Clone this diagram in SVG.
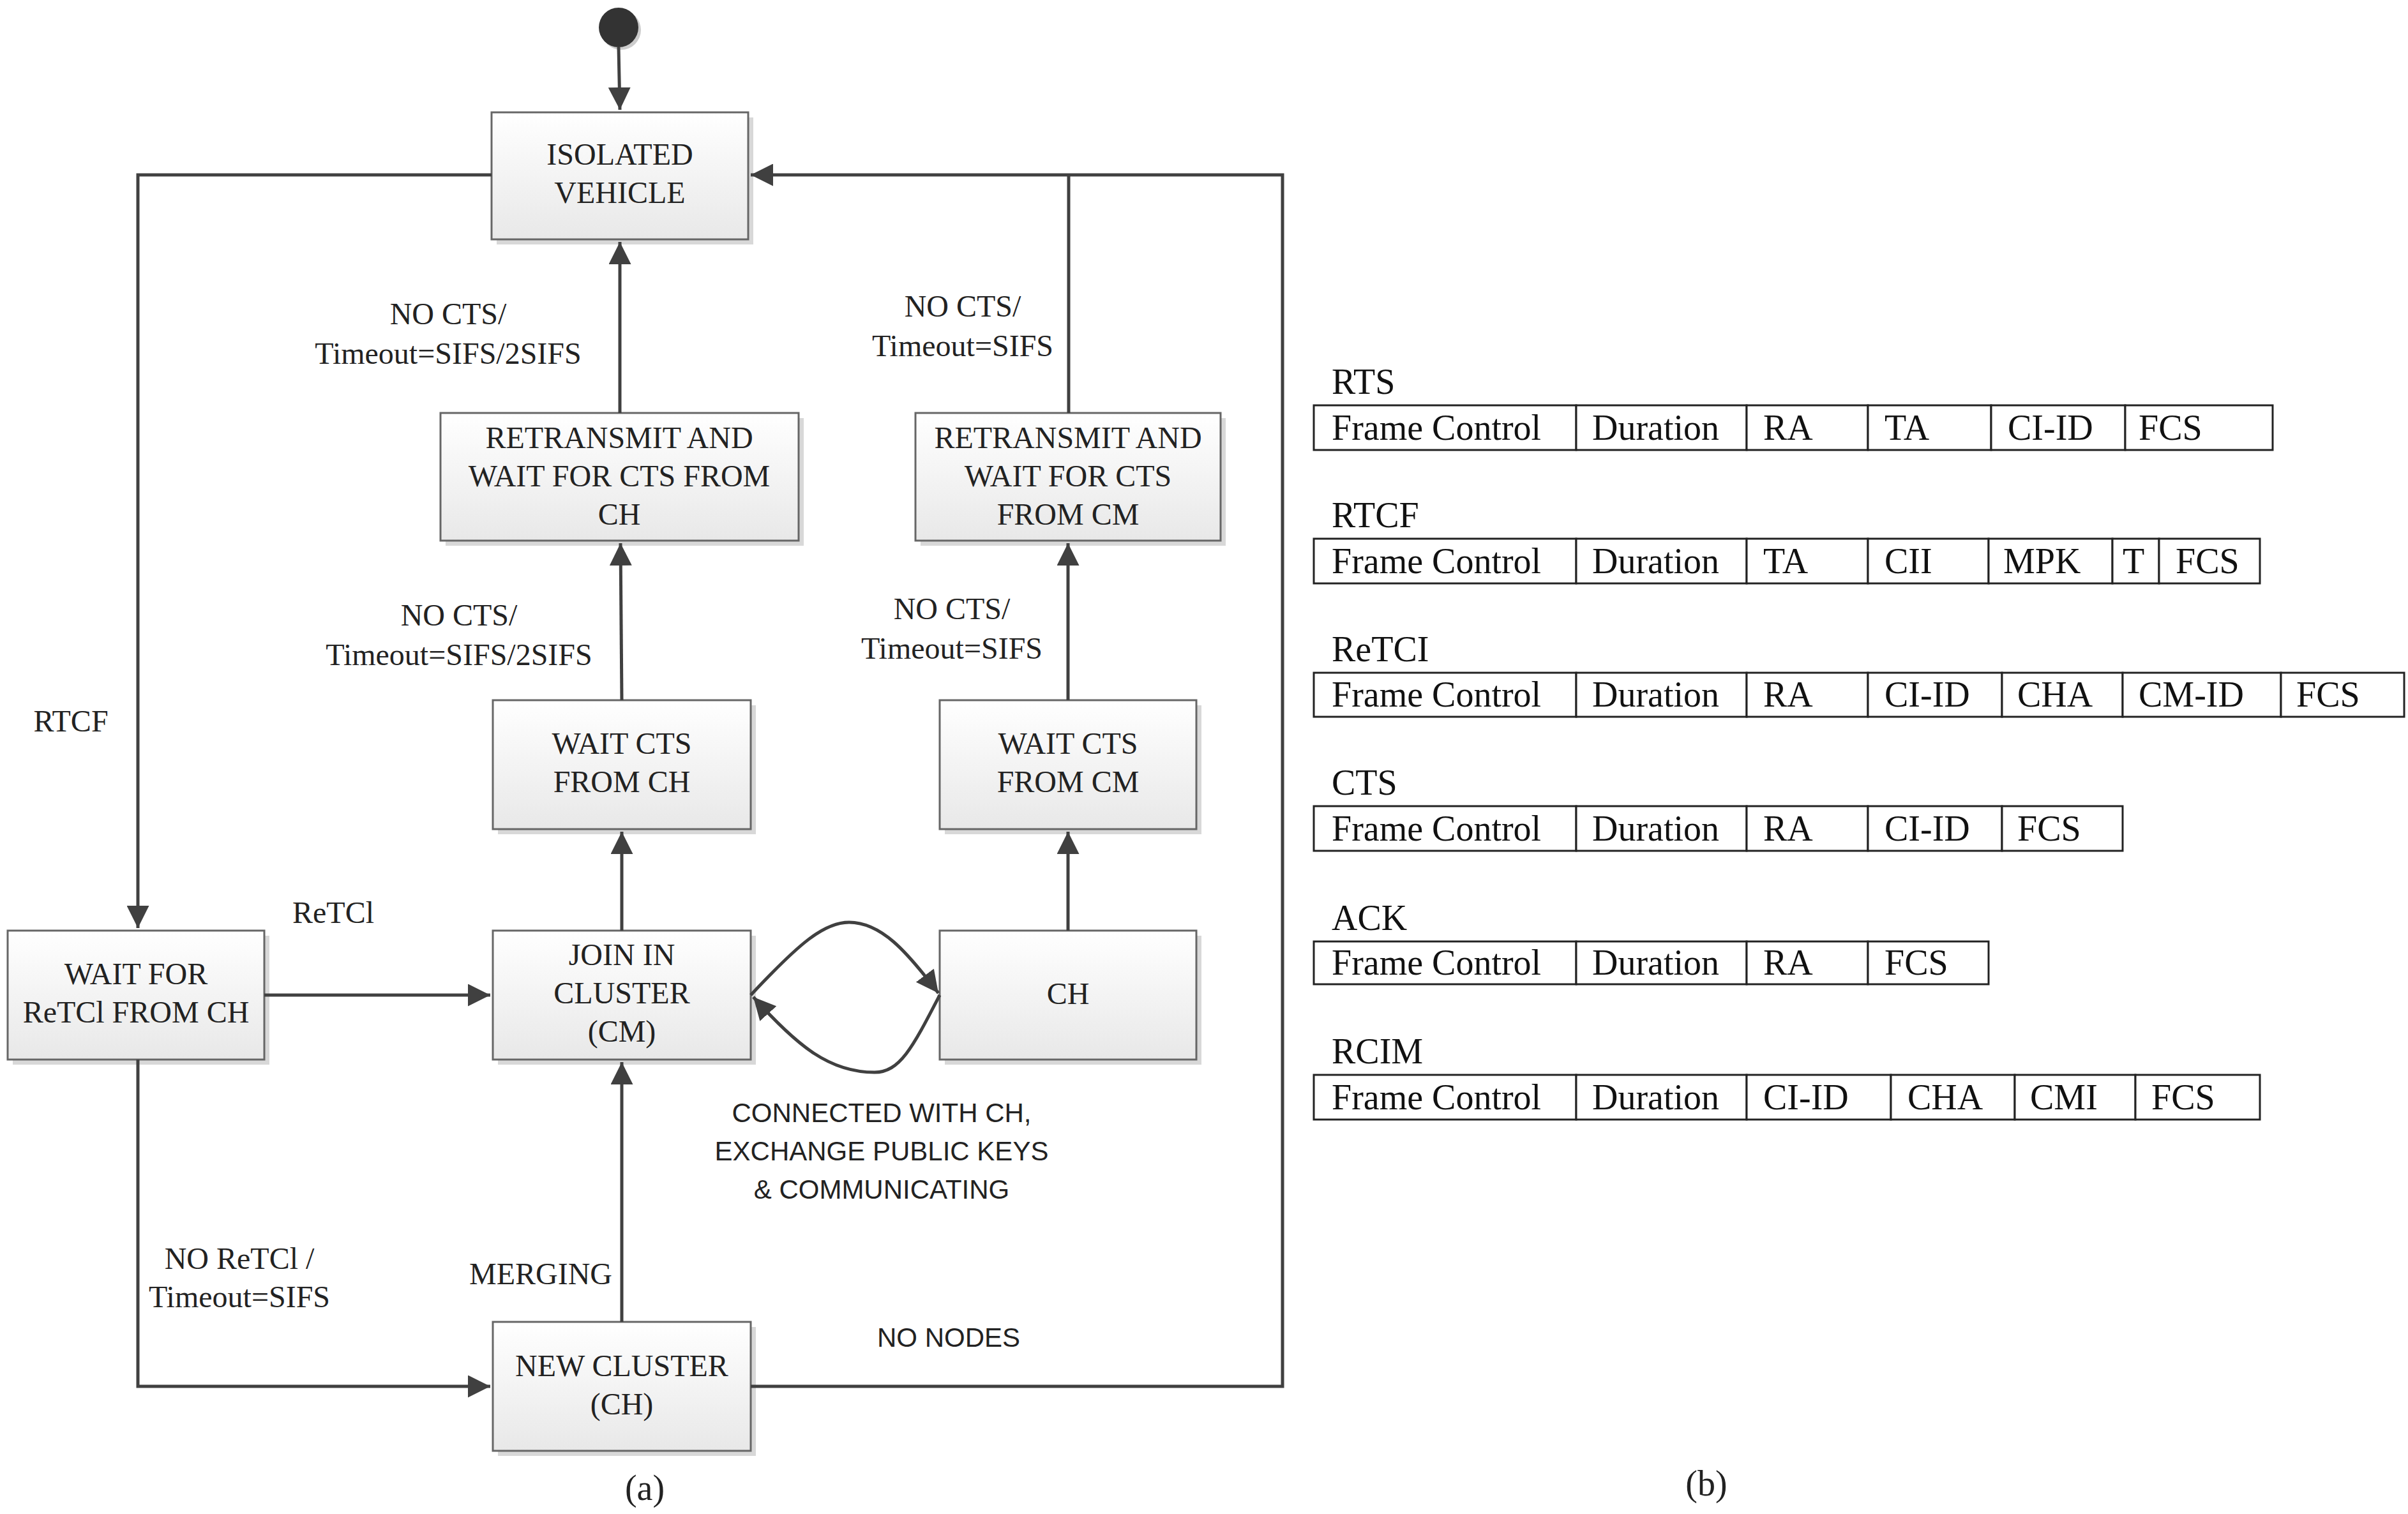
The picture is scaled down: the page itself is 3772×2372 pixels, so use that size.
<svg xmlns="http://www.w3.org/2000/svg" width="3772" height="2372" viewBox="0 0 3772 2372">
<defs>
<linearGradient id="g" x1="0" y1="0" x2="0" y2="1"><stop offset="0" stop-color="#ffffff"/><stop offset="1" stop-color="#e8e8e8"/></linearGradient>
<marker id="ah" viewBox="0 0 10 10" refX="10" refY="5" markerWidth="7" markerHeight="7" markerUnits="strokeWidth" orient="auto"><path d="M0,0 L10,5 L0,10 z" fill="#404040"/></marker>
<style>
.nd{fill:url(#g);stroke:#666;stroke-width:3}
.sh{fill:#d8d8d8}
.t{font-family:"Liberation Serif","Times New Roman","DejaVu Serif",serif;font-size:48px;fill:#222;text-anchor:middle}
.s{font-family:"Liberation Sans",Arial,sans-serif;font-size:42px;fill:#222;text-anchor:middle}
.c{fill:none;stroke:#404040;stroke-width:5}
.a{marker-end:url(#ah)}
.f{fill:#fff;stroke:#222;stroke-width:3}
.fl{font-family:"Liberation Serif","Times New Roman","DejaVu Serif",serif;font-size:56px;fill:#111}
</style>
</defs>
<rect width="3772" height="2372" fill="#fff"/>
<g id="start"><circle cx="973" cy="47" r="31" fill="#ccc"/><circle cx="969" cy="43" r="31" fill="#333"/></g>
<g id="isolated"><rect class="sh" x="778" y="184" width="402" height="199"/><rect class="nd" x="770" y="176" width="402" height="199"/><text class="t" x="971" y="258">ISOLATED</text><text class="t" x="971" y="318">VEHICLE</text></g>
<g id="retx-ch"><rect class="sh" x="698" y="655" width="561" height="200"/><rect class="nd" x="690" y="647" width="561" height="200"/><text class="t" x="970" y="702">RETRANSMIT AND</text><text class="t" x="970" y="762">WAIT FOR CTS FROM</text><text class="t" x="970" y="822">CH</text></g>
<g id="retx-cm"><rect class="sh" x="1442" y="655" width="478" height="200"/><rect class="nd" x="1434" y="647" width="478" height="200"/><text class="t" x="1673" y="702">RETRANSMIT AND</text><text class="t" x="1673" y="762">WAIT FOR CTS</text><text class="t" x="1673" y="822">FROM CM</text></g>
<g id="wait-ch"><rect class="sh" x="780" y="1105" width="404" height="202"/><rect class="nd" x="772" y="1097" width="404" height="202"/><text class="t" x="974" y="1181">WAIT CTS</text><text class="t" x="974" y="1241">FROM CH</text></g>
<g id="wait-cm"><rect class="sh" x="1480" y="1105" width="402" height="202"/><rect class="nd" x="1472" y="1097" width="402" height="202"/><text class="t" x="1673" y="1181">WAIT CTS</text><text class="t" x="1673" y="1241">FROM CM</text></g>
<g id="wait-retcl"><rect class="sh" x="20" y="1466" width="402" height="202"/><rect class="nd" x="12" y="1458" width="402" height="202"/><text class="t" x="213" y="1542">WAIT FOR</text><text class="t" x="213" y="1602">ReTCl FROM CH</text></g>
<g id="join"><rect class="sh" x="780" y="1466" width="404" height="202"/><rect class="nd" x="772" y="1458" width="404" height="202"/><text class="t" x="974" y="1512">JOIN IN</text><text class="t" x="974" y="1572">CLUSTER</text><text class="t" x="974" y="1632">(CM)</text></g>
<g id="ch"><rect class="sh" x="1480" y="1466" width="402" height="202"/><rect class="nd" x="1472" y="1458" width="402" height="202"/><text class="t" x="1673" y="1573">CH</text></g>
<g id="new-cluster"><rect class="sh" x="780" y="2079" width="404" height="202"/><rect class="nd" x="772" y="2071" width="404" height="202"/><text class="t" x="974" y="2156">NEW CLUSTER</text><text class="t" x="974" y="2216">(CH)</text></g>
<g id="connectors">
<path class="c a" d="M969,74 L971,172"/>
<path class="c a" d="M971,647 L971,379"/>
<path class="c a" d="M974,1097 L972,851"/>
<path class="c a" d="M1673,1097 L1673,851"/>
<path class="c a" d="M974,1458 L974,1303"/>
<path class="c a" d="M1673,1458 L1673,1303"/>
<path class="c a" d="M974,2071 L974,1664"/>
<path class="c" d="M1674,647 L1674,274"/>
<path class="c a" d="M1176,2172 L2009,2172 L2009,274 L1176,274"/>
<path class="c a" d="M770,274 L216,274 L216,1454"/>
<path class="c a" d="M414,1559 L768,1559"/>
<path class="c a" d="M216,1660 L216,2172 L768,2172"/>
<path class="c a" d="M1176,1559 C1250,1480 1290,1445 1330,1445 C1380,1445 1420,1490 1470,1556"/>
<path class="c a" d="M1472,1559 C1430,1640 1410,1680 1370,1680 C1300,1680 1250,1640 1180,1562"/>
</g>
<g id="labels">
<text class="t" x="702" y="508">NO CTS/</text><text class="t" x="702" y="570">Timeout=SIFS/2SIFS</text>
<text class="t" x="1508" y="496">NO CTS/</text><text class="t" x="1508" y="558">Timeout=SIFS</text>
<text class="t" x="719" y="980">NO CTS/</text><text class="t" x="719" y="1042">Timeout=SIFS/2SIFS</text>
<text class="t" x="1491" y="970">NO CTS/</text><text class="t" x="1491" y="1032">Timeout=SIFS</text>
<text class="t" x="111" y="1146">RTCF</text>
<text class="t" x="522" y="1446">ReTCl</text>
<text class="s" x="1381" y="1758">CONNECTED WITH CH,</text>
<text class="s" x="1381" y="1818">EXCHANGE PUBLIC KEYS</text>
<text class="s" x="1381" y="1878">&amp; COMMUNICATING</text>
<text class="t" x="375" y="1988">NO ReTCl /</text><text class="t" x="375" y="2048">Timeout=SIFS</text>
<text class="t" x="847" y="2012">MERGING</text>
<text class="s" x="1486" y="2110">NO NODES</text>
<text class="t" x="1010" y="2350" style="font-size:56px">(a)</text>
<text class="t" x="2673" y="2343" style="font-size:56px">(b)</text>
</g>
<g id="frames">
<g id="rts"><text class="fl" x="2086" y="617">RTS</text>
<rect class="f" x="2058" y="635" width="411" height="70"/><rect class="f" x="2469" y="635" width="267" height="70"/><rect class="f" x="2736" y="635" width="190" height="70"/><rect class="f" x="2926" y="635" width="193" height="70"/><rect class="f" x="3119" y="635" width="210" height="70"/><rect class="f" x="3329" y="635" width="231" height="70"/>
<text class="fl" x="2086" y="689">Frame Control</text><text class="fl" x="2494" y="689">Duration</text><text class="fl" x="2762" y="689">RA</text><text class="fl" x="2952" y="689">TA</text><text class="fl" x="3145" y="689">CI-ID</text><text class="fl" x="3350" y="689">FCS</text></g>
<g id="rtcf"><text class="fl" x="2086" y="826">RTCF</text>
<rect class="f" x="2058" y="844" width="411" height="70"/><rect class="f" x="2469" y="844" width="267" height="70"/><rect class="f" x="2736" y="844" width="190" height="70"/><rect class="f" x="2926" y="844" width="189" height="70"/><rect class="f" x="3115" y="844" width="194" height="70"/><rect class="f" x="3309" y="844" width="73" height="70"/><rect class="f" x="3382" y="844" width="158" height="70"/>
<text class="fl" x="2086" y="898">Frame Control</text><text class="fl" x="2494" y="898">Duration</text><text class="fl" x="2762" y="898">TA</text><text class="fl" x="2952" y="898">CII</text><text class="fl" x="3138" y="898">MPK</text><text class="fl" x="3325" y="898">T</text><text class="fl" x="3408" y="898">FCS</text></g>
<g id="retci"><text class="fl" x="2086" y="1036">ReTCI</text>
<rect class="f" x="2058" y="1054" width="411" height="69"/><rect class="f" x="2469" y="1054" width="267" height="69"/><rect class="f" x="2736" y="1054" width="190" height="69"/><rect class="f" x="2926" y="1054" width="210" height="69"/><rect class="f" x="3136" y="1054" width="189" height="69"/><rect class="f" x="3325" y="1054" width="248" height="69"/><rect class="f" x="3573" y="1054" width="193" height="69"/>
<text class="fl" x="2086" y="1107">Frame Control</text><text class="fl" x="2494" y="1107">Duration</text><text class="fl" x="2762" y="1107">RA</text><text class="fl" x="2952" y="1107">CI-ID</text><text class="fl" x="3160" y="1107">CHA</text><text class="fl" x="3350" y="1107">CM-ID</text><text class="fl" x="3597" y="1107">FCS</text></g>
<g id="cts"><text class="fl" x="2086" y="1245">CTS</text>
<rect class="f" x="2058" y="1263" width="411" height="70"/><rect class="f" x="2469" y="1263" width="267" height="70"/><rect class="f" x="2736" y="1263" width="190" height="70"/><rect class="f" x="2926" y="1263" width="210" height="70"/><rect class="f" x="3136" y="1263" width="189" height="70"/>
<text class="fl" x="2086" y="1317">Frame Control</text><text class="fl" x="2494" y="1317">Duration</text><text class="fl" x="2762" y="1317">RA</text><text class="fl" x="2952" y="1317">CI-ID</text><text class="fl" x="3160" y="1317">FCS</text></g>
<g id="ack"><text class="fl" x="2086" y="1457">ACK</text>
<rect class="f" x="2058" y="1475" width="411" height="67"/><rect class="f" x="2469" y="1475" width="267" height="67"/><rect class="f" x="2736" y="1475" width="190" height="67"/><rect class="f" x="2926" y="1475" width="189" height="67"/>
<text class="fl" x="2086" y="1527">Frame Control</text><text class="fl" x="2494" y="1527">Duration</text><text class="fl" x="2762" y="1527">RA</text><text class="fl" x="2952" y="1527">FCS</text></g>
<g id="rcim"><text class="fl" x="2086" y="1666">RCIM</text>
<rect class="f" x="2058" y="1684" width="411" height="70"/><rect class="f" x="2469" y="1684" width="267" height="70"/><rect class="f" x="2736" y="1684" width="226" height="70"/><rect class="f" x="2962" y="1684" width="194" height="70"/><rect class="f" x="3156" y="1684" width="189" height="70"/><rect class="f" x="3345" y="1684" width="195" height="70"/>
<text class="fl" x="2086" y="1738">Frame Control</text><text class="fl" x="2494" y="1738">Duration</text><text class="fl" x="2762" y="1738">CI-ID</text><text class="fl" x="2988" y="1738">CHA</text><text class="fl" x="3180" y="1738">CMI</text><text class="fl" x="3370" y="1738">FCS</text></g>
</g>
</svg>
